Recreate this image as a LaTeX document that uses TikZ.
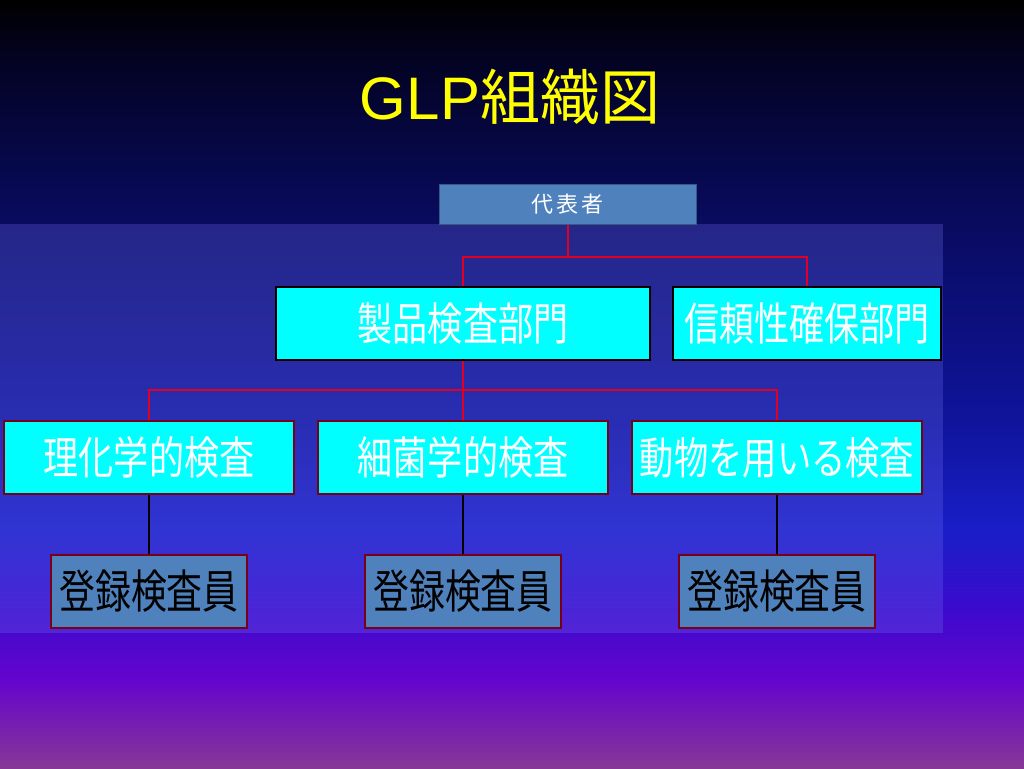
\documentclass[tikz,border=0pt]{standalone}
\usepackage{fontspec}
\setmainfont{Liberation Sans}
\newfontfamily\jpfont{Noto Sans CJK JP}
\newfontfamily\jpnarrow[FakeStretch=0.78]{Noto Sans CJK JP}
\newfontfamily\jpspaced[LetterSpace=14]{Noto Sans CJK JP}

\definecolor{boxblue}{RGB}{79,129,189}
\definecolor{boxcyan}{RGB}{0,255,255}
\definecolor{linered}{RGB}{225,0,35}
\definecolor{borderred}{RGB}{120,0,20}
\definecolor{titleyellow}{RGB}{255,255,0}
\definecolor{panelblue}{RGB}{110,110,240}
\definecolor{bgA}{RGB}{135,55,150}
\definecolor{bgB}{RGB}{100,5,205}
\definecolor{bgC}{RGB}{60,10,205}
\definecolor{bgD}{RGB}{25,30,200}
\definecolor{bgE}{RGB}{15,20,155}
\definecolor{bgF}{RGB}{8,10,88}
\definecolor{bgG}{RGB}{3,3,35}
\definecolor{bgH}{RGB}{0,0,0}
\pgfdeclareverticalshading{slidebg}{100bp}{color(0bp)=(bgA); color(25bp)=(bgA);
  color(30.73bp)=(bgB); color(35.29bp)=(bgC); color(40.49bp)=(bgD);
  color(47.66bp)=(bgE); color(61.98bp)=(bgF); color(71.09bp)=(bgG);
  color(75bp)=(bgH); color(100bp)=(bgH)}

\begin{document}
\begin{tikzpicture}[x=1pt,y=-1pt,
            head/.style={draw=boxblue!70!black,line width=1pt,fill=boxblue,text=white,
                inner sep=0pt,minimum width=257pt,minimum height=40pt,
                font=\fontsize{22}{22}\selectfont\jpspaced},
            dept/.style={draw=black,line width=2.5pt,fill=boxcyan,text=white,
                inner sep=0pt,minimum height=73pt,font=\fontsize{45}{45}\selectfont\jpnarrow},
            sect/.style={draw=borderred,line width=2pt,fill=boxcyan,text=white,
                inner sep=0pt,minimum width=290pt,minimum height=73pt,
                font=\fontsize{45}{45}\selectfont\jpnarrow},
            staff/.style={draw=borderred,line width=2pt,fill=boxblue,text=black,
                inner sep=0pt,minimum width=196pt,minimum height=73pt,
                font=\fontsize{46}{46}\selectfont\jpnarrow},
            redline/.style={draw=linered,line width=2pt},
            blackline/.style={draw=black,line width=2pt}]
            % background and panel
            \shade[shading=slidebg] (0,0) rectangle (1024,768);
            \fill[panelblue,opacity=0.28] (0,224) rectangle (943,633);
            % title
            \node[text=titleyellow,font=\fontsize{60}{60}\selectfont] (title) at (510,97)
                {GLP{\jpfont 組織図}};
            % boxes
            \node[head] (rep) at (567.5,204) {代表者};
            \node[dept,minimum width=374pt] (prod) at (463,323.5) {製品検査部門};
            \node[dept,minimum width=268pt] (qa) at (807,323.5) {信頼性確保部門};
            \node[sect] (chem) at (149,457.5) {理化学的検査};
            \node[sect] (bact) at (463,457.5) {細菌学的検査};
            \node[sect,font=\fontsize{44}{44}\selectfont\jpnarrow] (anim) at (777,457.5) {動物を用いる検査};
            \node[staff] (staffa) at (149,591.5) {登録検査員};
            \node[staff] (staffb) at (463,591.5) {登録検査員};
            \node[staff] (staffc) at (777,591.5) {登録検査員};
            % connectors
            \coordinate (forkA) at (567.5,257);
            \coordinate (forkB) at (463,390);
            \draw[redline] (rep.south) -- (forkA);
            \draw[redline] (prod.north) |- (forkA) -| (qa.north);
            \draw[redline] (prod.south) -- (bact.north);
            \draw[redline] (chem.north) |- (forkB) -| (anim.north);
            \draw[blackline] (chem.south) -- (staffa.north);
            \draw[blackline] (bact.south) -- (staffb.north);
            \draw[blackline] (anim.south) -- (staffc.north);
        \end{tikzpicture}
\end{document}
